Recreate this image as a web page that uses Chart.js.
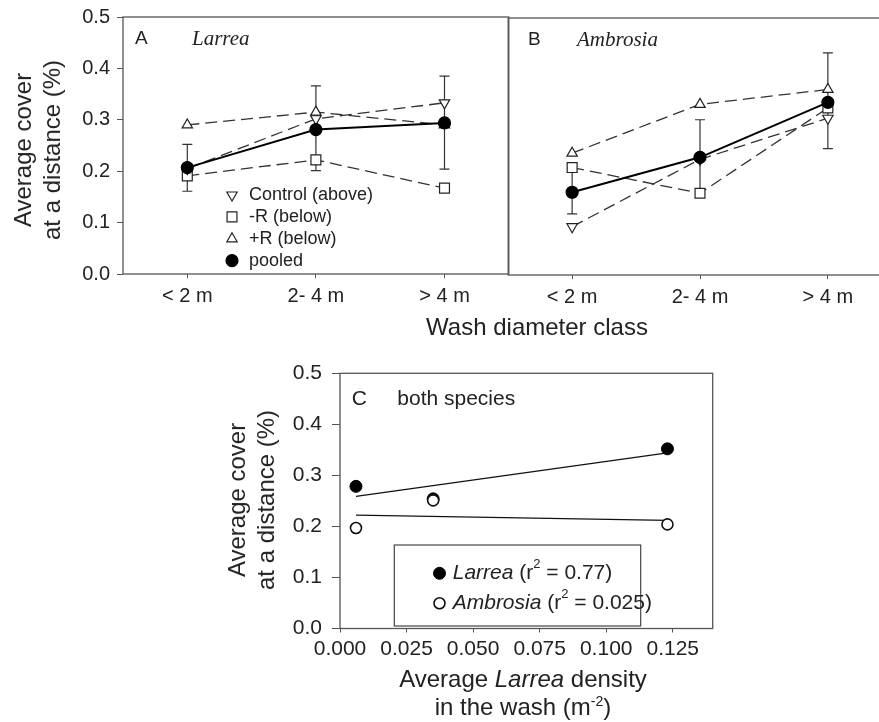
<!DOCTYPE html>
<html>
<head>
<meta charset="utf-8">
<script src="https://cdn.jsdelivr.net/npm/chart.js@4.4.1/dist/chart.umd.min.js"></script>
<style>
html, body { margin: 0; padding: 0; width: 879px; height: 722px; overflow: hidden; background: #fff; }
canvas { position: absolute; }
.t { position: absolute; font-family: 'Liberation Sans', Arial, sans-serif; color: #222; white-space: nowrap; font-size: 24px; }
.yt { line-height: 29px; text-align: center; transform: translate(-50%, -50%) rotate(-90deg); }
.t sup { font-size: 14px; line-height: 0; vertical-align: 9px; }
</style>
</head>
<body>
<canvas id="cA" width="517" height="312" style="left:0;top:0"></canvas>
<canvas id="cB" width="400" height="312" style="left:500px;top:0"></canvas>
<canvas id="cC" width="520" height="382" style="left:200px;top:340px"></canvas>
<div class="t yt" style="left:37px;top:150px">Average cover<br>at a distance (%)</div>
<div class="t yt" style="left:251px;top:500px">Average cover<br>at a distance (%)</div>
<div class="t" style="left:537px;top:327px;transform:translate(-50%,-50%)">Wash diameter class</div>
<div class="t" style="left:523px;top:693px;line-height:28px;text-align:center;transform:translate(-50%,-50%)">Average <i>Larrea</i> density<br>in the wash (m<sup>-2</sup>)</div>
<script>
// size classes of the washes
const classes = ['< 2 m', '2- 4 m', '> 4 m'];
const yTicks = [0, 0.1, 0.2, 0.3, 0.4, 0.5];

// A - Larrea
const larreaControl = [0.205, 0.302, 0.333];
const larreaMinusR = [0.191, 0.222, 0.167];
const larreaPlusR = [0.290, 0.315, 0.290];
const larreaPooled = [0.207, 0.281, 0.294];
const larreaErrLow = [0.161, 0.201, 0.204];
const larreaErrHigh = [0.252, 0.366, 0.385];

// B - Ambrosia
const ambrosiaControl = [0.094, 0.225, 0.305];
const ambrosiaMinusR = [0.209, 0.159, 0.325];
const ambrosiaPlusR = [0.237, 0.332, 0.361];
const ambrosiaPooled = [0.161, 0.229, 0.336];
const ambrosiaErrLow = [0.119, 0.159, 0.246];
const ambrosiaErrHigh = [0.207, 0.302, 0.432];

// C - both species vs Larrea density
const densityTicks = [0, 0.025, 0.05, 0.075, 0.1, 0.125];
const larreaDensity = [0.006, 0.035, 0.123];
const larreaCover = [0.2785, 0.254, 0.352];
const ambrosiaDensity = [0.006, 0.035, 0.123];
const ambrosiaCover = [0.197, 0.251, 0.204];
const larreaFitX = [0.006, 0.123];
const larreaFitY = [0.259, 0.344];
const ambrosiaFitX = [0.006, 0.123];
const ambrosiaFitY = [0.222, 0.212];

const INK = '#222';
const AXIS = '#555';
const SANS = "'Liberation Sans', Arial, sans-serif";
const SERIF = "'Liberation Serif', 'Times New Roman', serif";
Chart.defaults.font.family = SANS;
Chart.defaults.color = INK;

const fixW = w => scale => { scale.width = w; };
const fixH = h => scale => { scale.height = h; };
const useTicks = list => scale => { scale.ticks = list.map(v => ({value: v})); };

function drawRich(ctx, parts, x, y, size) {
  ctx.textBaseline = 'middle';
  ctx.textAlign = 'left';
  parts.forEach(p => {
    const s = p.sup ? Math.round(size * 0.62) : size;
    ctx.font = (p.italic ? 'italic ' : '') + s + 'px ' + (p.serif ? SERIF : SANS);
    ctx.fillText(p.t, x, p.sup ? y - size * 0.42 : y);
    x += ctx.measureText(p.t).width;
  });
}

const frame = {
  id: 'frame',
  beforeDatasetsDraw(chart) {
    const {ctx, chartArea: a} = chart;
    ctx.save();
    ctx.strokeStyle = AXIS;
    ctx.lineWidth = 1.3;
    ctx.strokeRect(a.left, a.top, a.right - a.left, a.bottom - a.top);
    ctx.restore();
  }
};

function errorBars(low, high) {
  return {
    id: 'errorBars',
    beforeDatasetsDraw(chart) {
      const {ctx, scales: {x, y}} = chart;
      ctx.save();
      ctx.strokeStyle = '#333';
      ctx.lineWidth = 1.2;
      low.forEach((lo, i) => {
        const px = x.getPixelForValue(i);
        const p1 = y.getPixelForValue(lo), p2 = y.getPixelForValue(high[i]);
        ctx.beginPath();
        ctx.moveTo(px, p1); ctx.lineTo(px, p2);
        ctx.moveTo(px - 5, p1); ctx.lineTo(px + 5, p1);
        ctx.moveTo(px - 5, p2); ctx.lineTo(px + 5, p2);
        ctx.stroke();
      });
      ctx.restore();
    }
  };
}

function insetLegend(cfg) {
  return {
    id: 'insetLegend',
    afterDatasetsDraw(chart) {
      const ctx = chart.ctx;
      ctx.save();
      ctx.setLineDash([]);
      if (cfg.box) {
        ctx.strokeStyle = '#444';
        ctx.lineWidth = 1.2;
        ctx.strokeRect(cfg.box[0], cfg.box[1], cfg.box[2], cfg.box[3]);
      }
      let y = cfg.y;
      chart.data.datasets.filter(ds => ds.label).forEach(ds => {
        ctx.fillStyle = ds.pointBackgroundColor;
        ctx.strokeStyle = ds.pointBorderColor;
        ctx.lineWidth = ds.pointBorderWidth;
        Chart.helpers.drawPoint(ctx, {
          pointStyle: ds.pointStyle, radius: ds.pointRadius,
          rotation: ds.pointRotation || 0, borderWidth: ds.pointBorderWidth
        }, cfg.markerX, y);
        ctx.fillStyle = INK;
        drawRich(ctx, ds.legendParts || [{t: ds.label}], cfg.textX, y, cfg.size);
        y += cfg.rowH;
      });
      ctx.restore();
    }
  };
}

function notes(list) {
  return {
    id: 'notes',
    afterDraw(chart) {
      const ctx = chart.ctx;
      ctx.save();
      ctx.fillStyle = INK;
      list.forEach(n => drawRich(ctx, n.parts, n.x, n.y, n.size));
      ctx.restore();
    }
  };
}

function series(label, data, style, extra) {
  return Object.assign({
    label: label, data: data, pointStyle: style,
    borderColor: '#333', borderWidth: 1.3, borderDash: [12, 6],
    pointBorderColor: '#222', pointBackgroundColor: '#fff', backgroundColor: '#fff',
    pointRadius: 6, pointBorderWidth: 1.2, tension: 0
  }, extra);
}

function panelSets(control, minusR, plusR, pooled) {
  return [
    series('Control (above)', control, 'triangle', {pointRotation: 180}),
    series('-R (below)', minusR, 'rect', {pointRadius: 7}),
    series('+R (below)', plusR, 'triangle'),
    series('pooled', pooled, 'circle', {
      order: -1, borderColor: '#000', borderWidth: 2, borderDash: [],
      pointBackgroundColor: '#000', pointBorderColor: '#000', backgroundColor: '#000', pointRadius: 6
    })
  ];
}

function classScales(showY, xHeight) {
  return {
    x: {
      offset: true,
      grid: {drawOnChartArea: false, tickLength: 4, color: AXIS},
      border: {display: false},
      ticks: {padding: 6, font: {size: 20}, maxRotation: 0, autoSkip: false},
      afterFit: fixH(xHeight)
    },
    y: {
      display: showY, min: 0, max: 0.5,
      grid: {drawOnChartArea: false, tickLength: 6, color: AXIS},
      border: {display: false},
      ticks: {padding: 7, font: {size: 20, lineHeight: 1}, callback: v => v.toFixed(1)},
      afterBuildTicks: useTicks(yTicks),
      afterFit: fixW(showY ? 123 : 0)
    }
  };
}

const quiet = {legend: {display: false}, tooltip: {enabled: false}};

new Chart(document.getElementById('cA'), {
  type: 'line',
  data: {labels: classes, datasets: panelSets(larreaControl, larreaMinusR, larreaPlusR, larreaPooled)},
  options: {
    responsive: false, animation: false,
    layout: {padding: {top: 17, right: 4, left: 0, bottom: 0}},
    plugins: quiet,
    scales: classScales(true, 38)
  },
  plugins: [frame, errorBars(larreaErrLow, larreaErrHigh),
    insetLegend({markerX: 232, textX: 249, y: 195, rowH: 21.9, size: 18}),
    notes([{x: 135, y: 39, size: 19, parts: [{t: 'A'}]},
           {x: 192, y: 39, size: 21, parts: [{t: 'Larrea', italic: true, serif: true}]}])]
});

new Chart(document.getElementById('cB'), {
  type: 'line',
  data: {labels: classes, datasets: panelSets(ambrosiaControl, ambrosiaMinusR, ambrosiaPlusR, ambrosiaPooled)},
  options: {
    responsive: false, animation: false,
    layout: {padding: {top: 18, right: 5, left: 3, bottom: 0}},
    plugins: quiet,
    scales: classScales(false, 37)
  },
  plugins: [frame, errorBars(ambrosiaErrLow, ambrosiaErrHigh),
    notes([{x: 28, y: 40, size: 19, parts: [{t: 'B'}]},
           {x: 77, y: 40, size: 21, parts: [{t: 'Ambrosia', italic: true, serif: true}]}])]
});

const pts = (xs, ys) => xs.map((x, i) => ({x: x, y: ys[i]}));

new Chart(document.getElementById('cC'), {
  type: 'scatter',
  data: {
    datasets: [
      {label: 'Larrea', legendParts: [{t: 'Larrea', italic: true}, {t: ' (r'}, {t: '2', sup: true}, {t: ' = 0.77)'}],
       data: pts(larreaDensity, larreaCover), order: -1,
       pointStyle: 'circle', pointRadius: 6, pointBackgroundColor: '#000', pointBorderColor: '#000', pointBorderWidth: 1},
      {label: 'Ambrosia', legendParts: [{t: 'Ambrosia', italic: true}, {t: ' (r'}, {t: '2', sup: true}, {t: ' = 0.025)'}],
       data: pts(ambrosiaDensity, ambrosiaCover), order: -2,
       pointStyle: 'circle', pointRadius: 5.5, pointBackgroundColor: '#fff', pointBorderColor: '#111', pointBorderWidth: 1.6},
      {data: pts(larreaFitX, larreaFitY), showLine: true, pointRadius: 0, borderColor: '#111', borderWidth: 1.3},
      {data: pts(ambrosiaFitX, ambrosiaFitY), showLine: true, pointRadius: 0, borderColor: '#111', borderWidth: 1.3}
    ]
  },
  options: {
    responsive: false, animation: false,
    layout: {padding: {top: 33.3, right: 7.3, left: 0, bottom: 0}},
    plugins: quiet,
    scales: {
      x: {
        type: 'linear', min: 0, max: 0.14,
        grid: {drawOnChartArea: false, tickLength: 4, color: AXIS},
        border: {display: false},
        ticks: {padding: 4, font: {size: 21}, maxRotation: 0, autoSkip: false, callback: v => v.toFixed(3)},
        afterBuildTicks: useTicks(densityTicks),
        afterFit: fixH(93.5)
      },
      y: {
        min: 0, max: 0.5,
        grid: {drawOnChartArea: false, tickLength: 8, color: AXIS},
        border: {display: false},
        ticks: {padding: 10, font: {size: 21}, callback: v => v.toFixed(1)},
        afterBuildTicks: useTicks(yTicks),
        afterFit: fixW(140)
      }
    }
  },
  plugins: [frame,
    insetLegend({markerX: 239.5, textX: 252.7, y: 233.3, rowH: 30, size: 21, box: [194.3, 205, 246.4, 81]}),
    notes([{x: 151.7, y: 59, size: 21, parts: [{t: 'C'}]},
           {x: 197.3, y: 59, size: 21, parts: [{t: 'both species'}]}])]
});
</script>
</body>
</html>
